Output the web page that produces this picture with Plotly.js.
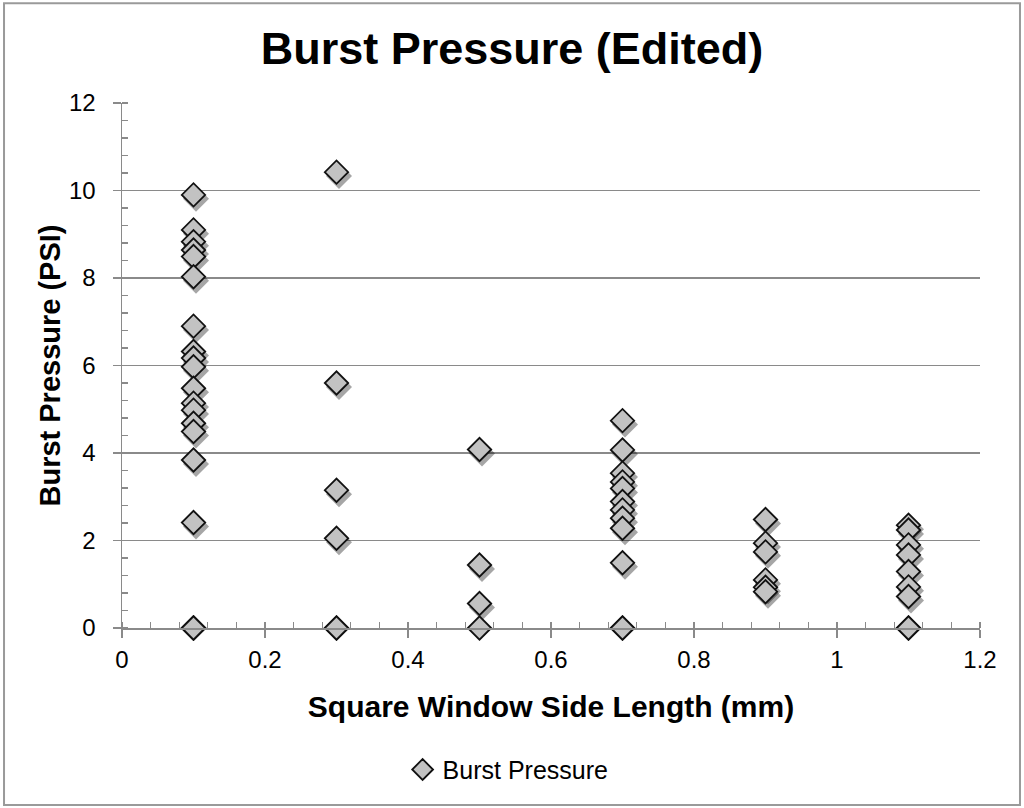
<!DOCTYPE html>
<html>
<head>
<meta charset="utf-8">
<script src="https://cdn.plot.ly/plotly-3.0.1.min.js"></script>
<style>
  html, body { margin: 0; padding: 0; background: #fff; }
  #chart { width: 1024px; height: 808px; }
</style>
</head>
<body>
<div id="chart"></div>
<script>
// window side lengths (mm) and burst pressures (PSI)
var widths = [0.1, 0.3, 0.5, 0.7, 0.9, 1.1];
var p01 = [9.9, 9.1, 8.83, 8.64, 8.49, 8.03, 6.9, 6.32, 6.17, 5.97, 5.48, 5.14, 4.98, 4.68, 4.49, 3.84, 2.41, 0, 0, 0];
var p03 = [10.42, 5.6, 3.15, 2.05, 0, 0];
var p05 = [4.08, 1.44, 0.56, 0];
var p07 = [4.74, 4.07, 3.54, 3.34, 3.19, 2.89, 2.7, 2.51, 2.28, 1.49, 0, 0];
var p09 = [2.48, 1.94, 1.74, 1.1, 0.93, 0.83];
var p11 = [2.35, 2.24, 1.9, 1.67, 1.29, 0.94, 0.72, 0, 0];
var groups = [p01, p03, p05, p07, p09, p11];

var xs = [], ys = [];
groups.forEach(function (g, i) {
    g.forEach(function (v) { xs.push(widths[i]); ys.push(v); });
});

// drop shadow: same points on a hidden axis pair whose range is nudged a few px
var shadow = {
    x: xs, y: ys,
    mode: 'markers', type: 'scatter',
    xaxis: 'x2', yaxis: 'y2',
    showlegend: false, hoverinfo: 'skip', cliponaxis: false,
    marker: { symbol: 'diamond', size: 20, color: 'rgba(0,0,0,0.35)', line: { width: 0 } }
};

var trace = {
    x: xs, y: ys,
    name: 'Burst Pressure',
    mode: 'markers', type: 'scatter',
    xaxis: 'x3', yaxis: 'y3',
    cliponaxis: false,
    marker: { symbol: 'diamond', size: 18, color: '#c2c2c2', line: { color: '#111', width: 1.8 } }
};

// empty trace so the visible axes get drawn
var base = { x: [], y: [], type: 'scatter', mode: 'markers', showlegend: false, hoverinfo: 'skip' };

var data = [base, shadow, trace];

var fam = 'Liberation Sans, Arial, sans-serif';
var axisFont = { family: fam, size: 24, color: '#000' };

var layout = {
    width: 1024,
    height: 808,
    paper_bgcolor: '#fff',
    plot_bgcolor: '#fff',
    margin: { l: 122, r: 44, t: 103, b: 180 },
    title: {
        text: '<b>Burst Pressure (Edited)</b>',
        font: { family: fam, size: 45, color: '#000' },
        x: 0.5, xref: 'container', xanchor: 'center',
        y: 0.94, yref: 'container', yanchor: 'middle'
    },
    xaxis: {
        range: [0, 1.2],
        dtick: 0.2,
        showgrid: false,
        zeroline: false,
        showline: true, linecolor: '#8a8a8a', linewidth: 1.5,
        ticks: 'outside', ticklen: 8, tickcolor: '#8a8a8a', tickwidth: 1.5,
        minor: { dtick: 0.04, ticks: 'inside', ticklen: 6, tickcolor: '#8a8a8a', tickwidth: 1.2 },
        tickfont: axisFont,
        ticklabelstandoff: 2,
        title: { text: '<b>Square Window Side Length (mm)</b>', font: { family: fam, size: 30, color: '#000' }, standoff: 23 }
    },
    yaxis: {
        range: [0, 12],
        dtick: 2,
        showgrid: true, gridcolor: '#8a8a8a', gridwidth: 1.5,
        zeroline: false,
        showline: true, linecolor: '#8a8a8a', linewidth: 1.5,
        ticks: 'outside', ticklen: 8, tickcolor: '#8a8a8a', tickwidth: 1.5,
        minor: { dtick: 0.4, ticks: 'inside', ticklen: 6, tickcolor: '#8a8a8a', tickwidth: 1.2, showgrid: false },
        tickfont: axisFont,
        ticklabelstandoff: 12,
        title: { text: '<b>Burst Pressure (PSI)</b>', font: { family: fam, size: 29, color: '#000' }, standoff: 0 }
    },
    xaxis2: { range: [-0.0035, 1.1965], overlaying: 'x', visible: false, fixedrange: true },
    yaxis2: { range: [0.09, 12.09], overlaying: 'y', visible: false, fixedrange: true },
    xaxis3: { range: [0, 1.2], overlaying: 'x', visible: false, fixedrange: true },
    yaxis3: { range: [0, 12], overlaying: 'y', visible: false, fixedrange: true },
    showlegend: true,
    legend: {
        orientation: 'h',
        x: 0.45, xanchor: 'center',
        y: -0.27, yanchor: 'middle',
        font: { family: fam, size: 25, color: '#000' },
        itemwidth: 30
    },
    shapes: [{
        type: 'rect', xref: 'paper', yref: 'paper',
        x0: -0.1375, x1: 1.0466, y0: -0.337, y1: 1.19,
        line: { color: '#9a9a9a', width: 2 }
    }]
};

Plotly.newPlot('chart', data, layout, { displayModeBar: false, staticPlot: true });
</script>
</body>
</html>
